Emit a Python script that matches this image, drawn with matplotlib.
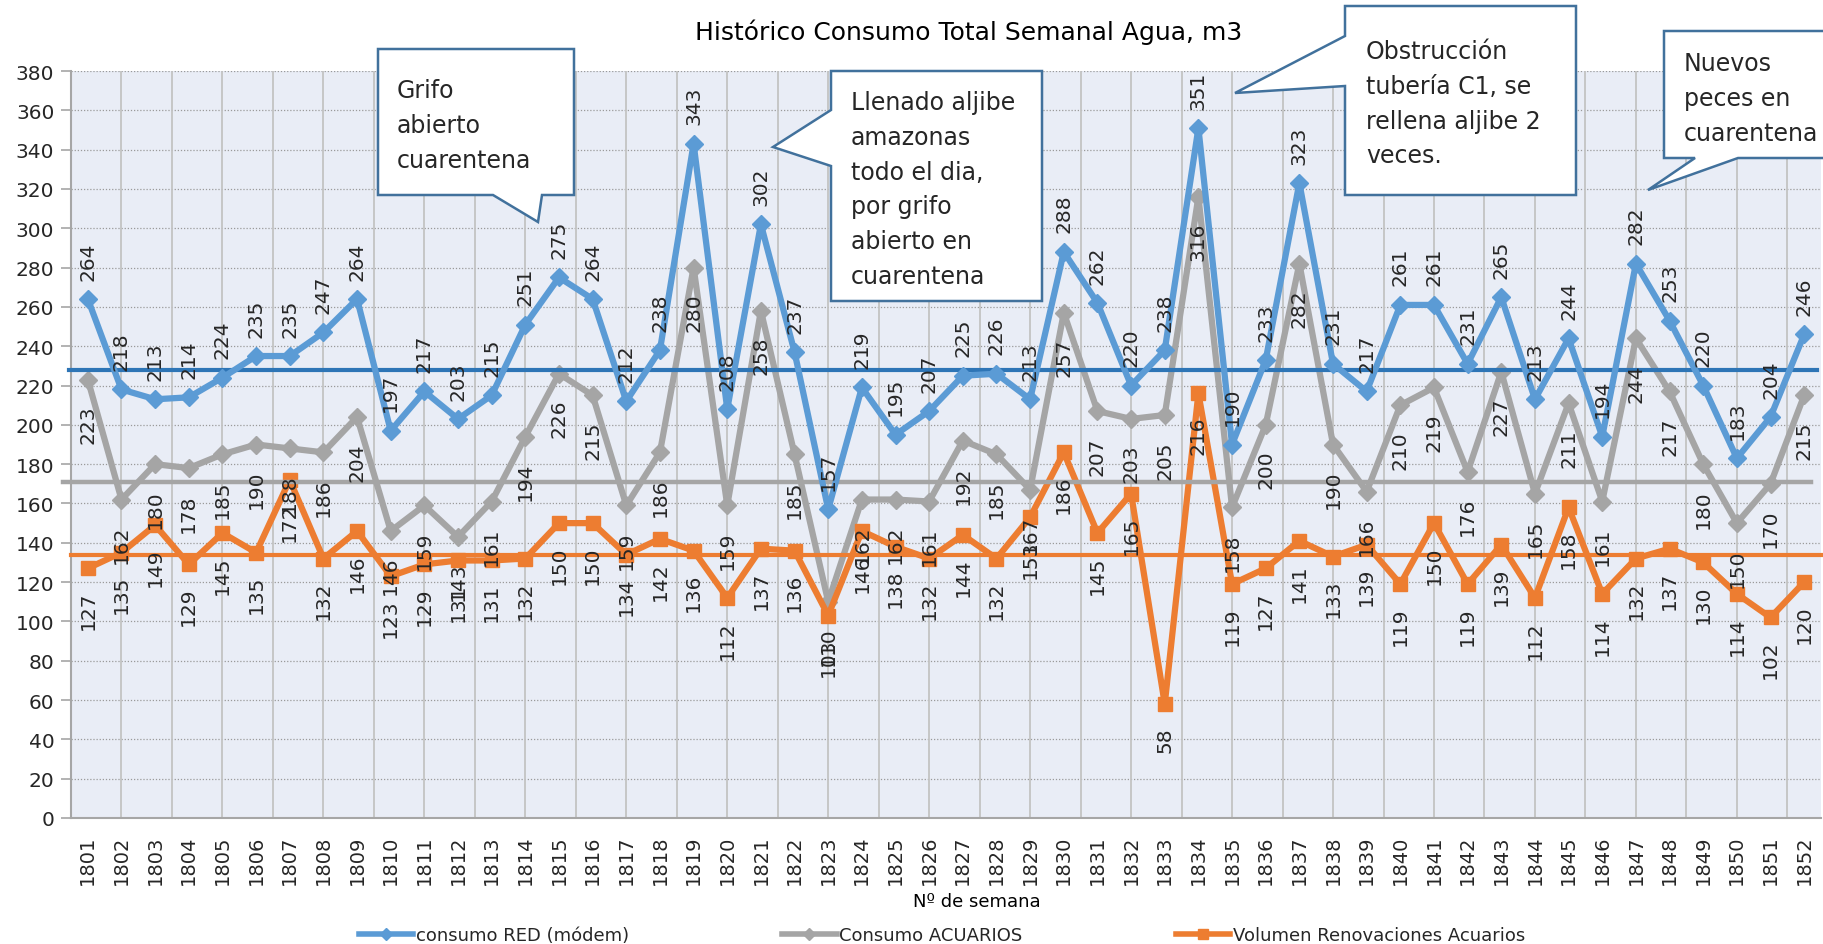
import matplotlib
matplotlib.use("Agg")
import matplotlib.pyplot as plt
from matplotlib.lines import Line2D
from matplotlib.patches import Polygon
import matplotlib.transforms as mtransforms

# Semanas
semanas = [str(s) for s in range(1801, 1853)]

# consumo RED (modem)
consumo_red = [264, 218, 213, 214, 224, 235, 235, 247, 264, 197, 217, 203, 215, 251, 275, 264,
               212, 238, 343, 208, 302, 237, 157, 219, 195, 207, 225, 226, 213, 288, 262, 220,
               238, 351, 190, 233, 323, 231, 217, 261, 261, 231, 265, 213, 244, 194, 282, 253,
               220, 183, 204, 246]

# Consumo ACUARIOS
consumo_acuarios = [223, 162, 180, 178, 185, 190, 188, 186, 204, 146, 159, 143, 161, 194, 226, 215,
                    159, 186, 280, 159, 258, 185, 110, 162, 162, 161, 192, 185, 167, 257, 207, 203,
                    205, 316, 158, 200, 282, 190, 166, 210, 219, 176, 227, 165, 211, 161, 244, 217,
                    180, 150, 170, 215]

# Volumen Renovaciones Acuarios
renovaciones = [127, 135, 149, 129, 145, 135, 172, 132, 146, 123, 129, 131, 131, 132, 150, 150,
                134, 142, 136, 112, 137, 136, 103, 146, 138, 132, 144, 132, 153, 186, 145, 165,
                58, 216, 119, 127, 141, 133, 139, 119, 150, 119, 139, 112, 158, 114, 132, 137,
                130, 114, 102, 120]

# lineas de promedio
prom_red = 228
prom_acuarios = 171
prom_renov = 134

azul = '#5B9BD5'
azul_osc = '#2E75B6'
gris = '#A5A5A5'
naranja = '#ED7D31'
borde = '#41719C'
txt = '#262626'

W, H = 1823, 945
plt.rcParams['font.family'] = ['DejaVu Sans']
fig = plt.figure(figsize=(W / 100, H / 100), dpi=100)
ax = fig.add_axes([71 / W, 1 - 819 / H, 1750 / W, (819 - 72) / H])
ax.set_facecolor('#E9EDF6')

x = list(range(len(semanas)))

# rejilla
for v in range(20, 400, 20):
    ax.axhline(v, color='#9A9A9A', lw=0.9, ls=(0, (1, 1.5)), zorder=0)
for k in range(0, 35):
    ax.axvline(-0.5 + 1.5 * k, color='#C3C3C3', lw=1.3, zorder=0)

# promedios
tr = mtransforms.blended_transform_factory(ax.transAxes, ax.transData)
ax.plot([-0.001, 0.9977], [prom_red, prom_red], color=azul_osc, lw=3, transform=tr, clip_on=False, zorder=5)
ax.plot([-0.0046, 0.994], [prom_acuarios, prom_acuarios], color=gris, lw=3.2, transform=tr, clip_on=False, zorder=5)
ax.plot([0, 1.002], [prom_renov, prom_renov], color=naranja, lw=3, transform=tr, clip_on=False, zorder=5)

ax.plot(x, consumo_acuarios, color=gris, lw=4.5, marker='D', ms=9, zorder=3)
ax.plot(x, renovaciones, color=naranja, lw=4.5, marker='s', ms=10, zorder=4)
ax.plot(x, consumo_red, color=azul, lw=4.5, marker='D', ms=9, zorder=6)

# etiquetas de datos
fs_lab = 14.5
for i in x:
    ax.annotate(str(consumo_red[i]), (i, consumo_red[i]), xytext=(0, 14), textcoords='offset points',
                rotation=90, ha='center', va='bottom', fontsize=fs_lab, color=txt, zorder=7)
    ax.annotate(str(consumo_acuarios[i]), (i, consumo_acuarios[i]), xytext=(0, -18), textcoords='offset points',
                rotation=90, ha='center', va='top', fontsize=fs_lab, color=txt, zorder=7)
    ax.annotate(str(renovaciones[i]), (i, renovaciones[i]), xytext=(0, -16), textcoords='offset points',
                rotation=90, ha='center', va='top', fontsize=fs_lab, color=txt, zorder=7)

ax.set_xlim(-0.5, len(semanas) - 0.5)
ax.set_ylim(0, 380)
ax.set_yticks(range(0, 381, 20))
ax.set_xticks(x)
ax.set_xticklabels(semanas, rotation=90, fontsize=14, color=txt)
ax.tick_params(axis='y', labelsize=14.5, labelcolor=txt, color='#A6A6A6', length=7, width=1.2, pad=5)
ax.tick_params(axis='x', length=0, pad=12)
for s in ['top', 'right']:
    ax.spines[s].set_visible(False)
for s in ['left', 'bottom']:
    ax.spines[s].set_color('#A6A6A6')
    ax.spines[s].set_linewidth(1.5)

fig.text(969 / W, 1 - 32 / H, 'Histórico Consumo Total Semanal Agua, m3', ha='center', va='center',
         fontsize=18, color='black')
fig.text(977 / W, 1 - 902 / H, 'Nº de semana', ha='center', va='center', fontsize=13, color='black')

# leyenda
handles = [Line2D([], [], color=azul, lw=4, marker='D', ms=6),
           Line2D([], [], color=gris, lw=4, marker='D', ms=6),
           Line2D([], [], color=naranja, lw=4, marker='s', ms=7)]
labels = ['consumo RED (módem)', 'Consumo ACUARIOS', 'Volumen Renovaciones Acuarios']
fig.legend(handles, labels, loc='center', bbox_to_anchor=(942 / W, 1 - 936 / H), ncol=3, frameon=False,
           fontsize=13, handlelength=3.0, handletextpad=0.15, columnspacing=8.5, labelcolor=txt)

# globos de texto (coordenadas en pixeles)
px = mtransforms.Affine2D().scale(1 / W, -1 / H).translate(0, 1) + fig.transFigure


def globo(puntos, texto, tx, ty, fs=17):
    fig.patches.append(Polygon(puntos, closed=True, facecolor='white', edgecolor=borde, lw=1.8,
                               transform=px, zorder=10))
    fig.text(tx, ty, texto, transform=px, ha='left', va='top', fontsize=fs, color=txt,
             linespacing=1.57, zorder=11)


globo([(378, 50), (574, 50), (574, 196), (542, 196), (538, 223), (493, 196), (378, 196)],
      'Grifo\nabierto\ncuarentena', 397, 79)
globo([(831, 72), (1042, 72), (1042, 302), (831, 302), (831, 167), (773, 148), (831, 111)],
      'Llenado aljibe\namazonas\ntodo el dia,\npor grifo\nabierto en\ncuarentena', 851, 91)
globo([(1345, 7), (1576, 7), (1576, 196), (1345, 196), (1345, 87), (1235, 94), (1345, 37)],
      'Obstrucción\ntubería C1, se\nrellena aljibe 2\nveces.', 1366, 40)
globo([(1664, 32), (1830, 32), (1830, 159), (1738, 159), (1648, 191), (1695, 159), (1664, 159)],
      'Nuevos\npeces en\ncuarentena', 1684, 52)

fig.savefig('out.png', dpi=100)
